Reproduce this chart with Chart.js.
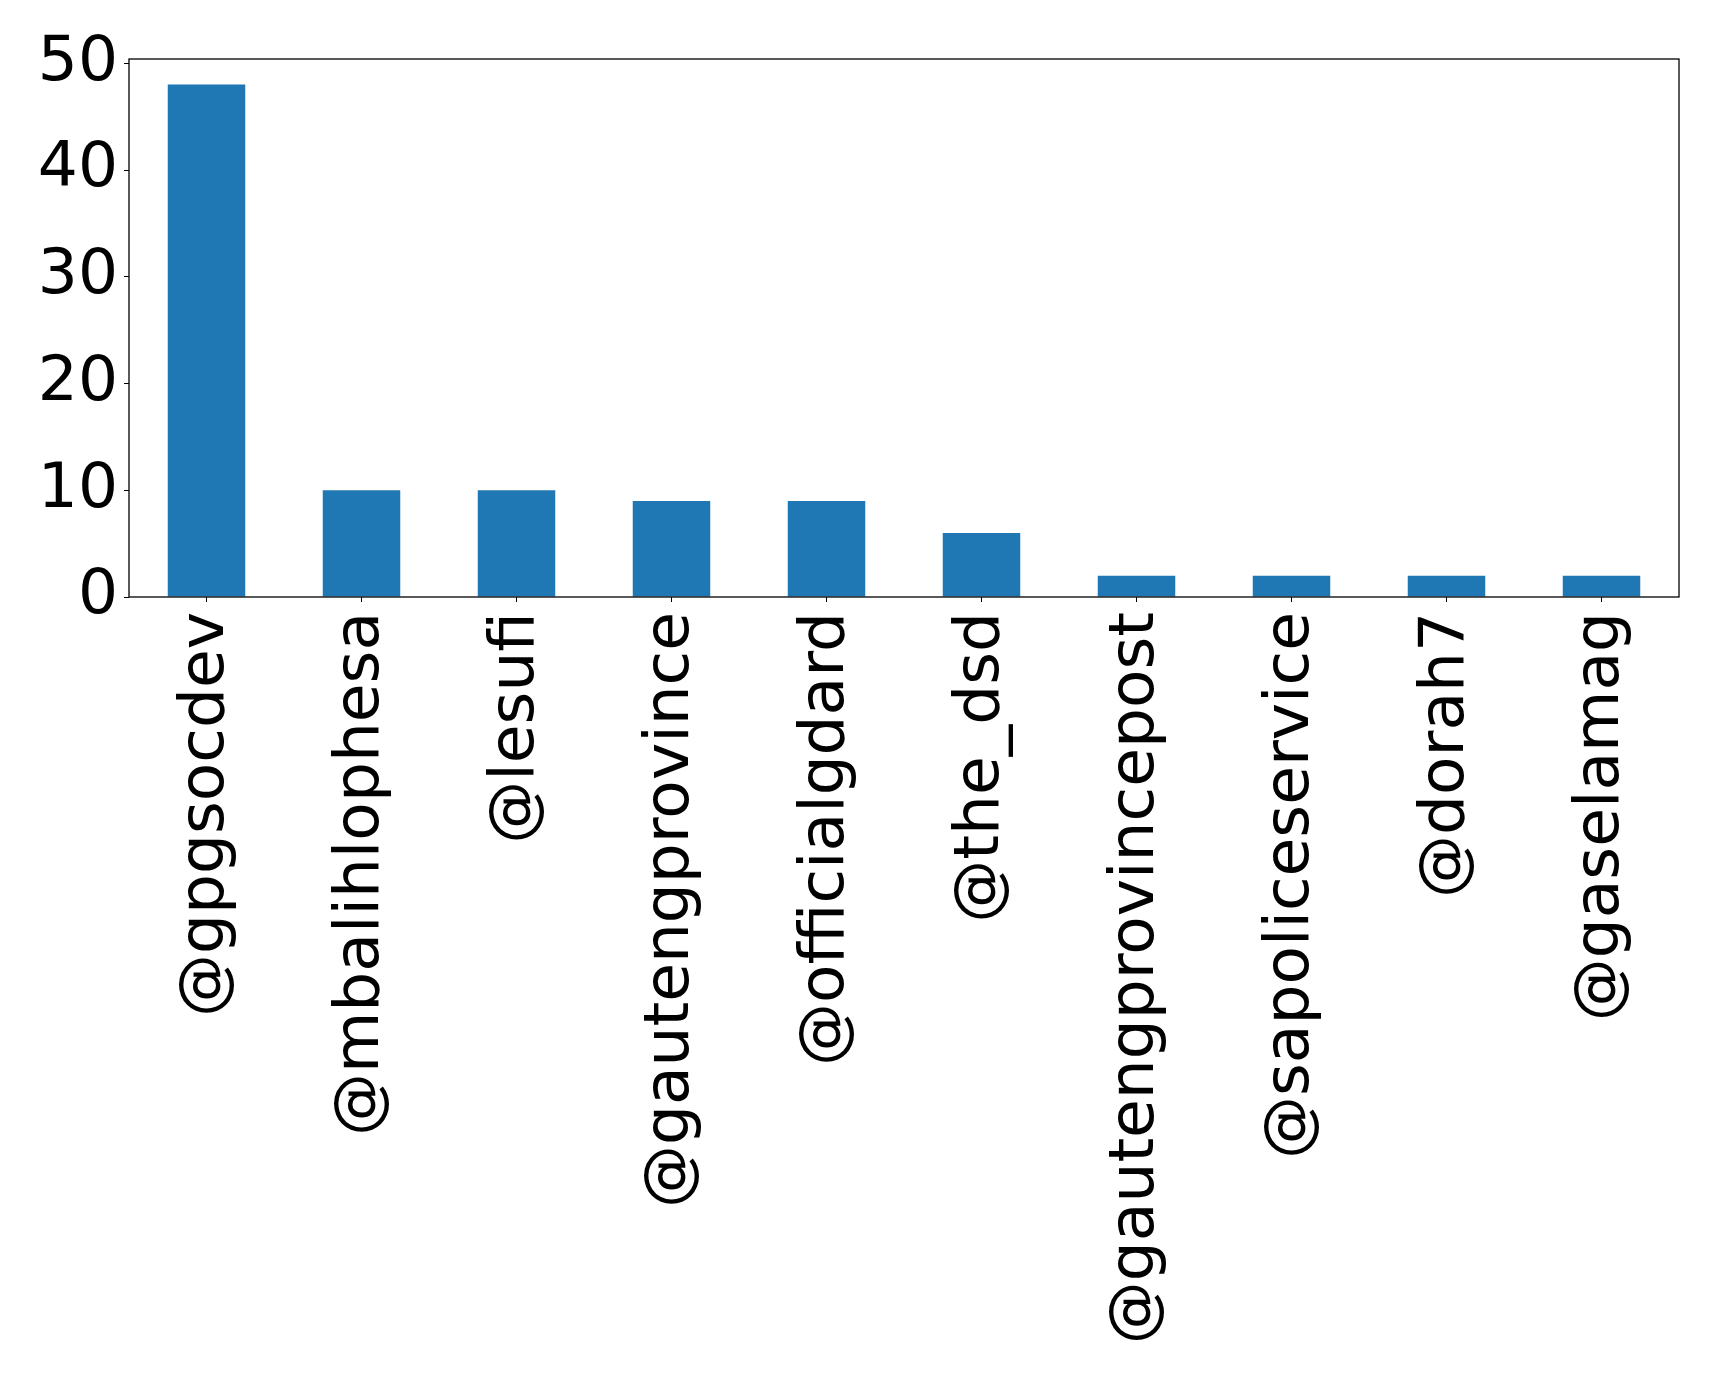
<!DOCTYPE html>
<html>
<head>
<meta charset="utf-8">
<script src="https://cdn.jsdelivr.net/npm/chart.js@4/dist/chart.umd.min.js"></script>
<style>
  html, body { margin: 0; padding: 0; background: #fff; }
  canvas { display: block; }
</style>
</head>
<body>
<canvas id="myChart" width="1719" height="1373"></canvas>
<script>
// data
const accounts = ['@gpgsocdev', '@mbalihlophesa', '@lesufi', '@gautengprovince', '@officialgdard',
  '@the_dsd', '@gautengprovincepost', '@sapoliceservice', '@dorah7', '@gaselamag'];
const mentions = [48, 10, 10, 9, 9, 6, 2, 2, 2, 2];
const yTicks = [0, 10, 20, 30, 40, 50];

// draws the top and right spines too
const frameBox = {
  id: 'frameBox',
  afterDraw(chart) {
    const a = chart.chartArea;
    const ctx = chart.ctx;
    ctx.save();
    ctx.strokeStyle = '#000';
    ctx.lineWidth = 1.3;
    ctx.strokeRect(a.left, a.top, a.right - a.left, a.bottom - a.top);
    ctx.restore();
  }
};

const tickFont = { family: 'DejaVu Sans', size: 63 };

new Chart(document.getElementById('myChart').getContext('2d'), {
  type: 'bar',
  data: {
    labels: accounts,
    datasets: [{
      data: mentions,
      backgroundColor: '#1f77b4',
      borderWidth: 0,
      categoryPercentage: 1,
      barPercentage: 0.5
    }]
  },
  options: {
    responsive: false,
    animation: false,
    layout: { padding: { top: 59, right: 40, left: 0, bottom: 0 } },
    plugins: { legend: { display: false }, tooltip: { enabled: false } },
    scales: {
      x: {
        offset: true,
        grid: { display: true, offset: false, drawOnChartArea: false, drawTicks: true, tickLength: 5, color: '#000' },
        border: { display: false },
        ticks: {
          font: tickFont, color: '#000', autoSkip: false,
          minRotation: 90, maxRotation: 90, padding: 10
        },
        afterFit(scale) { scale.height = 776; }
      },
      y: {
        min: 0,
        max: 50.4,
        grid: { display: true, drawOnChartArea: false, drawTicks: true, tickLength: 5, color: '#000' },
        border: { display: false },
        ticks: { font: tickFont, color: '#000', stepSize: 10, includeBounds: false, padding: 6 },
        afterBuildTicks(scale) { scale.ticks = yTicks.map(v => ({ value: v })); },
        afterFit(scale) { scale.width = 129; }
      }
    }
  },
  plugins: [frameBox]
});
</script>
</body>
</html>
